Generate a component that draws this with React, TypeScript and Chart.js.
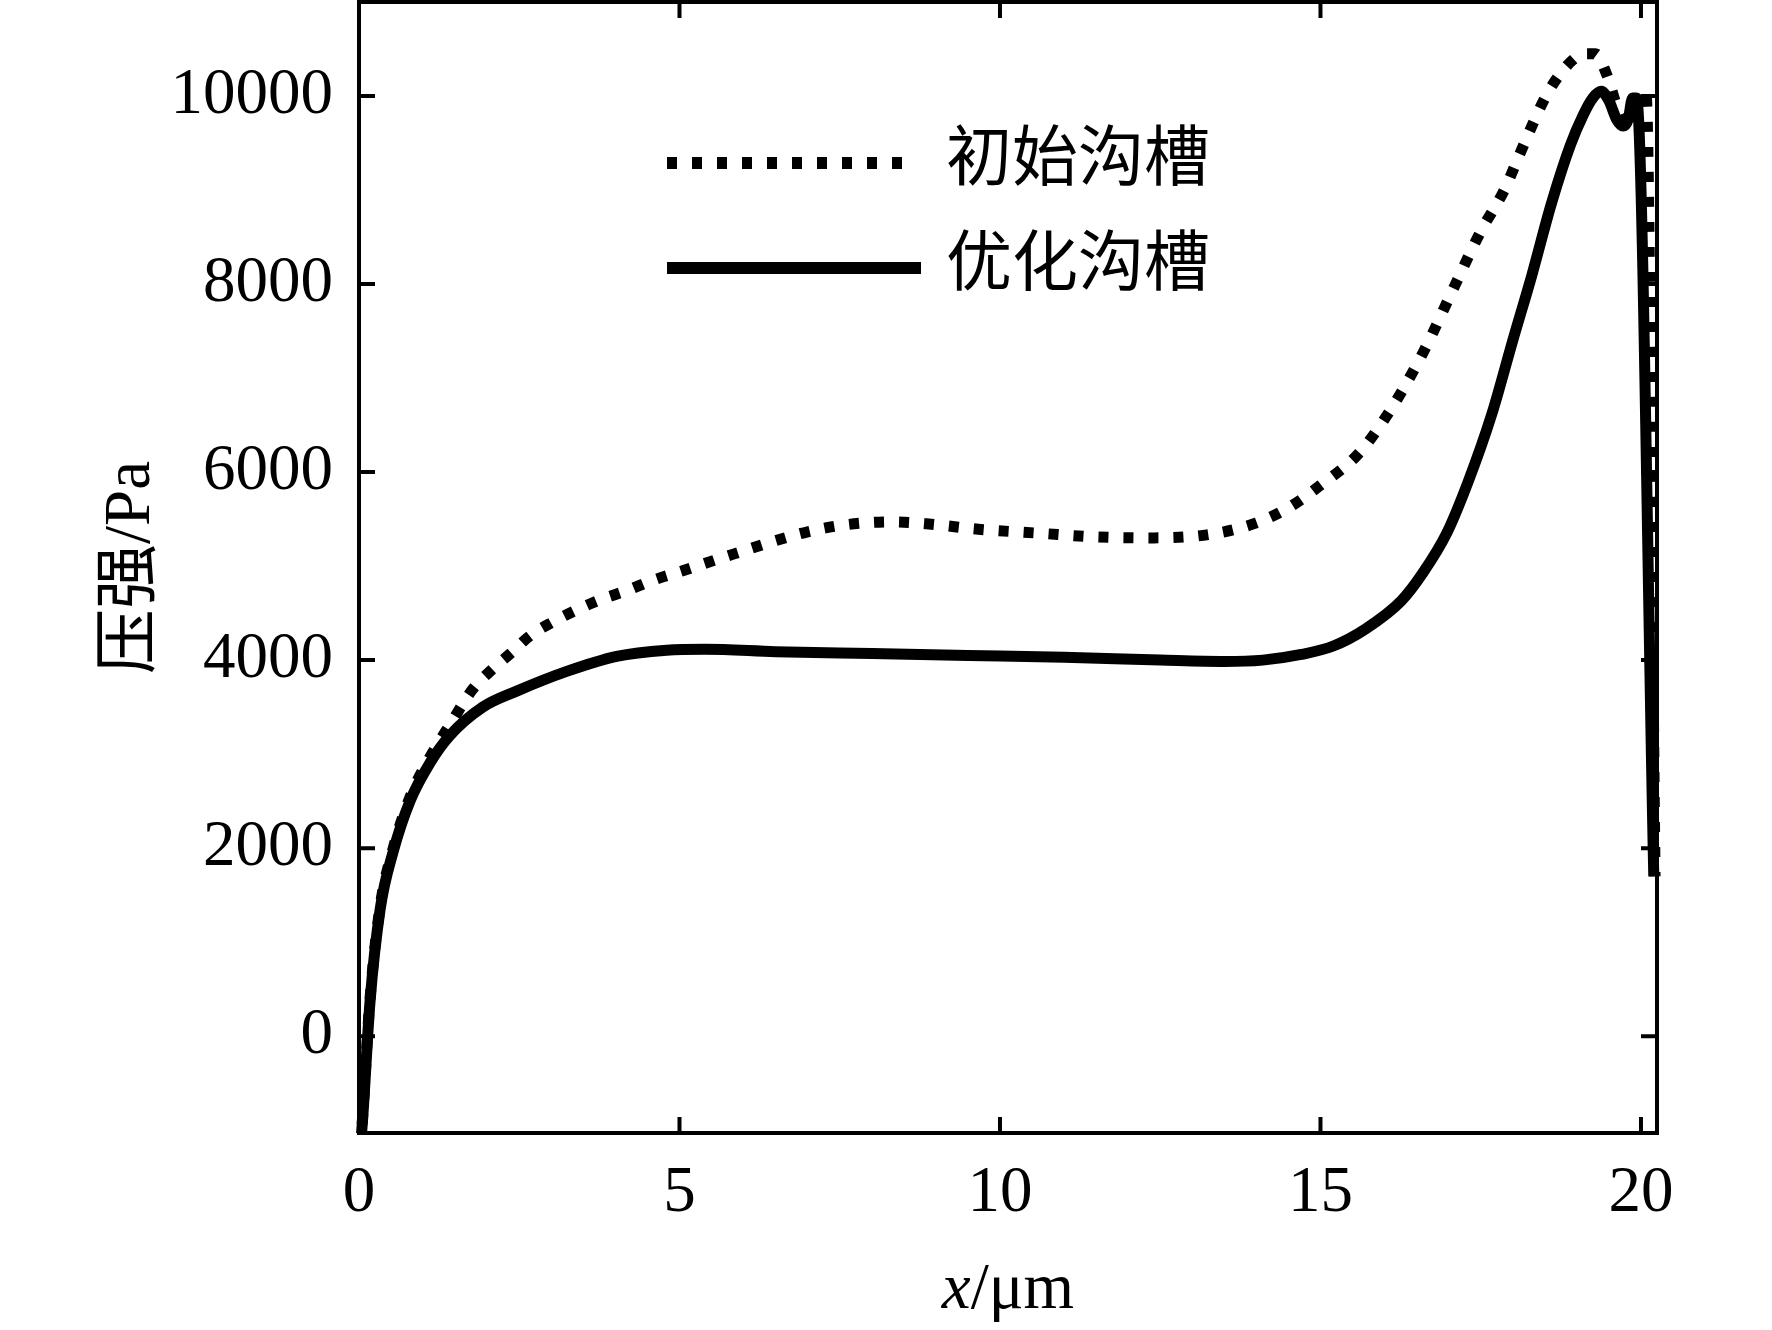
import { useEffect, useRef } from "react"
import Chart from "chart.js/auto"

const xTicks = [0, 5, 10, 15, 20]
const yTicks = [0, 2000, 4000, 6000, 8000, 10000]

const seriesLabels = ["初始沟槽", "优化沟槽"]

// 初始沟槽 (dotted)
const initialX = [
  0.02, 0.06, 0.17, 0.33, 0.53, 0.8, 1.1, 1.42, 1.78, 2.09, 2.36, 2.67, 3.03, 3.4, 3.76, 4.18, 4.59, 5.05,
  5.58, 5.99, 6.4, 7.0, 7.6, 8.3, 8.85, 9.7, 10.6, 11.5, 12.4, 13.3, 14.0, 14.5, 15.0, 15.6, 16.1, 16.6,
  17.1, 17.5, 17.86, 18.12, 18.31, 18.48, 18.65, 18.93, 19.1, 19.29, 19.47, 19.62, 19.75, 19.85, 19.93,
  20.08, 20.22,
]
const initialP = [
  -1200, -820, 380, 1380, 1990, 2550, 2960, 3314, 3696, 3909, 4068, 4260, 4408, 4535, 4641, 4740, 4850, 4950,
  5070, 5160, 5250, 5365, 5440, 5470, 5450, 5390, 5350, 5310, 5300, 5340, 5460, 5620, 5860, 6200, 6670, 7270,
  7990, 8560, 8990, 9400, 9700, 9950, 10150, 10380, 10450, 10450, 10220, 9900, 9720, 9800, 10000,
  10000, 1700,
]

// 优化沟槽 (solid)
const optimizedX = [
  0.02, 0.06, 0.17, 0.33, 0.53, 0.8, 1.11, 1.42, 1.93, 2.46, 3.24, 4.02, 4.8, 5.4, 6.5, 8.0, 9.5, 11.0, 12.5,
  13.5, 14.1, 14.7, 15.2, 15.7, 16.26, 16.6, 16.97, 17.3, 17.67, 18.0, 18.3, 18.6, 18.9, 19.1, 19.25, 19.38,
  19.5, 19.62, 19.72, 19.8, 19.87, 19.93, 20.2,
]
const optimizedP = [
  -1200, -850, 350, 1350, 1955, 2507, 2910, 3200, 3500, 3670, 3880, 4040, 4105, 4115, 4090, 4070, 4050, 4030,
  4000, 3985, 4000, 4060, 4150, 4330, 4630, 4930, 5350, 5890, 6610, 7400, 8100, 8850, 9480, 9800, 9980, 10050,
  9950, 9750, 9680, 9750, 9980, 9980, 1700,
]

const SERIF = "'Liberation Serif', 'Times New Roman', 'Noto Sans CJK SC', serif"
const FONT_SIZE = 65
const TICK_LEN = 16

const framePlugin = {
  id: "frame",
  afterDraw(chart: any) {
    const { ctx, chartArea: a, scales } = chart
    const sx = scales.x
    const sy = scales.y
    ctx.save()
    ctx.strokeStyle = "#000"
    ctx.lineWidth = 4
    ctx.strokeRect(a.left, a.top, a.right - a.left, a.bottom - a.top)

    // inward ticks on all four sides
    ctx.beginPath()
    xTicks.forEach((v) => {
      const px = sx.getPixelForValue(v)
      ctx.moveTo(px, a.bottom)
      ctx.lineTo(px, a.bottom - TICK_LEN)
      ctx.moveTo(px, a.top)
      ctx.lineTo(px, a.top + TICK_LEN)
    })
    yTicks.forEach((v) => {
      const py = sy.getPixelForValue(v)
      ctx.moveTo(a.left, py)
      ctx.lineTo(a.left + TICK_LEN, py)
      ctx.moveTo(a.right, py)
      ctx.lineTo(a.right - TICK_LEN, py)
    })
    ctx.stroke()

    // legend
    const rows = [163, 268]
    chart.data.datasets.forEach((ds: any, i: number) => {
      const y = rows[i]
      ctx.beginPath()
      ctx.lineWidth = ds.borderWidth + 1
      ctx.lineCap = "butt"
      ctx.setLineDash(ds.borderDash || [])
      ctx.moveTo(667, y)
      ctx.lineTo(ds.borderDash ? 910 : 921, y)
      ctx.stroke()
      ctx.setLineDash([])
      ctx.fillStyle = "#000"
      ctx.font = `66px ${SERIF}`
      ctx.textAlign = "left"
      ctx.textBaseline = "middle"
      ctx.fillText(ds.label, 946, y)
    })

    // x axis title: italic x + /μm
    const cx = (a.left + a.right) / 2
    const baseY = 1308
    ctx.textBaseline = "alphabetic"
    ctx.font = `italic ${FONT_SIZE}px ${SERIF}`
    const w1 = ctx.measureText("x").width
    ctx.font = `${FONT_SIZE}px ${SERIF}`
    const w2 = ctx.measureText("/μm").width
    const start = cx - (w1 + w2) / 2
    ctx.font = `italic ${FONT_SIZE}px ${SERIF}`
    ctx.fillText("x", start, baseY)
    ctx.font = `${FONT_SIZE}px ${SERIF}`
    ctx.fillText("/μm", start + w1, baseY)
    ctx.restore()
  },
}

export default function App() {
  const chartRef = useRef<HTMLCanvasElement>(null)
  const chartInstance = useRef<Chart | null>(null)

  useEffect(() => {
    if (!chartRef.current) return
    const ctx = chartRef.current.getContext("2d")
    if (!ctx) return
    if (chartInstance.current) chartInstance.current.destroy()

    chartInstance.current = new Chart(ctx, {
      type: "line",
      data: {
        datasets: [
          {
            label: seriesLabels[0],
            data: initialX.map((x, i) => ({ x, y: initialP[i] })),
            borderColor: "#000",
            borderWidth: 11,
            borderDash: [10, 15],
            borderCapStyle: "butt",
            cubicInterpolationMode: "monotone",
            pointRadius: 0,
            order: 1,
            clip: { left: 6, top: 6, right: 6, bottom: 0 },
          },
          {
            label: seriesLabels[1],
            data: optimizedX.map((x, i) => ({ x, y: optimizedP[i] })),
            borderColor: "#000",
            borderWidth: 11,
            cubicInterpolationMode: "monotone",
            pointRadius: 0,
            order: 0,
            clip: { left: 6, top: 6, right: 6, bottom: 0 },
          },
        ] as any,
      },
      options: {
        animation: false,
        responsive: true,
        maintainAspectRatio: false,
        layout: { padding: { left: 0, right: 115, top: 2, bottom: 0 } },
        plugins: {
          legend: { display: false },
          tooltip: { enabled: false },
        },
        scales: {
          x: {
            type: "linear",
            min: 0,
            max: 20.25,
            grid: { display: false, drawTicks: false },
            border: { display: false },
            afterBuildTicks: (s: any) => {
              s.ticks = xTicks.map((v) => ({ value: v }))
            },
            afterFit: (s: any) => {
              s.height = 197
              s.paddingLeft = 0
              s.paddingRight = 0
            },
            ticks: {
              color: "#000",
              font: { family: SERIF, size: FONT_SIZE },
              padding: 22,
              maxRotation: 0,
              autoSkip: false,
              callback: (v: any) => String(v),
            },
          },
          y: {
            type: "linear",
            min: -1030,
            max: 11000,
            grid: { display: false, drawTicks: false },
            border: { display: false },
            afterBuildTicks: (s: any) => {
              s.ticks = yTicks.map((v) => ({ value: v }))
            },
            afterFit: (s: any) => {
              s.width = 359
              s.paddingTop = 0
              s.paddingBottom = 0
            },
            ticks: {
              color: "#000",
              font: { family: SERIF, size: FONT_SIZE },
              padding: 26,
              autoSkip: false,
              callback: (v: any) => String(v),
            },
            title: {
              display: true,
              text: "压强/Pa",
              color: "#000",
              font: { family: SERIF, size: FONT_SIZE },
              padding: { top: 93, bottom: 0 },
            },
          },
        },
      },
      plugins: [framePlugin],
    })

    return () => {
      if (chartInstance.current) {
        chartInstance.current.destroy()
        chartInstance.current = null
      }
    }
  }, [])

  return (
    <div style={{ position: "fixed", left: 0, top: 0, width: 1772, height: 1330, background: "#fff" }}>
      <canvas ref={chartRef} aria-label="压强分布图" role="img"></canvas>
    </div>
  )
}
